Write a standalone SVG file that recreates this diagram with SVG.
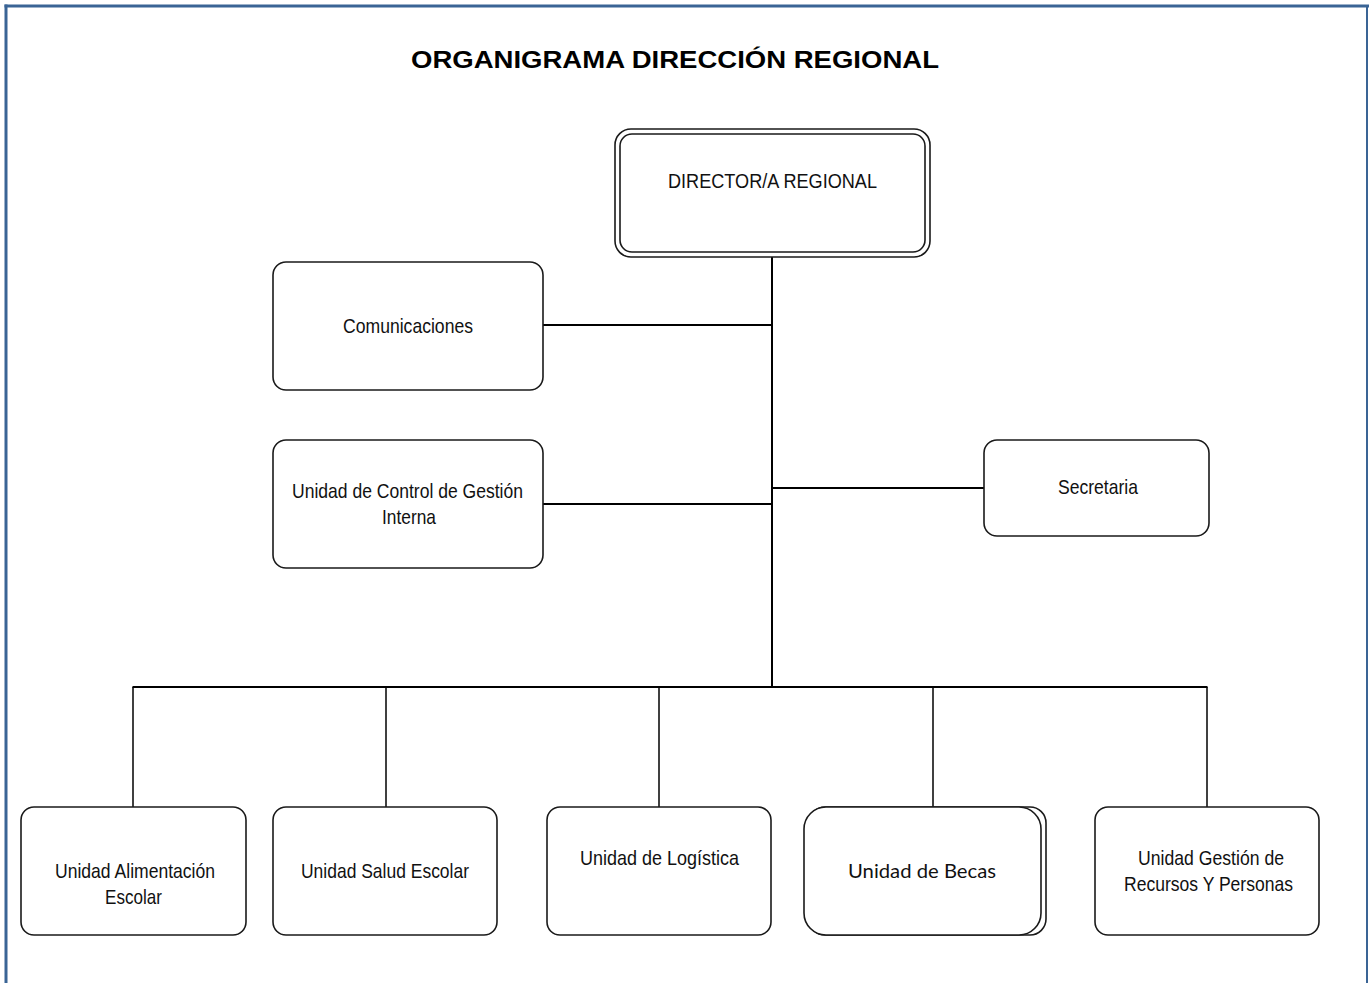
<svg xmlns="http://www.w3.org/2000/svg" width="1369" height="983" viewBox="0 0 1369 983">
<style>
.box{fill:#fff;stroke:#1a1a1a;stroke-width:1.6}
.t{font-family:"Liberation Sans",Arial,sans-serif;font-size:21px;fill:#111;text-anchor:middle}
.c{fill:none;stroke:#000;stroke-width:2}
.d{fill:none;stroke:#000;stroke-width:1.5}
</style>
<rect width="1369" height="983" fill="#fff"/>
<g id="frame" fill="none" stroke="#3a6495">
<line x1="4.5" y1="6" x2="1369" y2="6" stroke-width="3"/>
<line x1="6" y1="4.5" x2="6" y2="983" stroke-width="3"/>
<line x1="1367" y1="6" x2="1367" y2="983" stroke-width="2"/>
</g>
<text x="675" y="68" font-family="'Liberation Sans',Arial,sans-serif" font-weight="bold" font-size="24" text-anchor="middle" textLength="528" lengthAdjust="spacingAndGlyphs">ORGANIGRAMA DIRECCIÓN REGIONAL</text>
<g id="connectors">
<line class="c" x1="772" y1="257" x2="772" y2="688"/>
<line class="c" x1="543" y1="325" x2="772" y2="325"/>
<line class="c" x1="543" y1="504" x2="772" y2="504"/>
<line class="c" x1="772" y1="488" x2="984" y2="488"/>
<line class="c" x1="132.5" y1="687" x2="1207.5" y2="687"/>
<line class="d" x1="133" y1="687" x2="133" y2="807"/>
<line class="d" x1="386" y1="687" x2="386" y2="807"/>
<line class="d" x1="659" y1="687" x2="659" y2="807"/>
<line class="d" x1="933" y1="687" x2="933" y2="807"/>
<line class="d" x1="1207" y1="687" x2="1207" y2="807"/>
</g>
<g id="director">
<rect class="box" x="615" y="129" width="315" height="128" rx="16"/>
<rect class="box" x="620" y="134" width="305" height="118" rx="12"/>
<text class="t" x="772.5" y="188" textLength="209" lengthAdjust="spacingAndGlyphs">DIRECTOR/A  REGIONAL</text>
</g>
<g id="comunicaciones">
<rect class="box" x="273" y="262" width="270" height="128" rx="13"/>
<text class="t" x="408" y="333" textLength="130" lengthAdjust="spacingAndGlyphs">Comunicaciones</text>
</g>
<g id="control">
<rect class="box" x="273" y="440" width="270" height="128" rx="13"/>
<text class="t" x="407.5" y="498" textLength="231" lengthAdjust="spacingAndGlyphs">Unidad de Control de Gestión</text>
<text class="t" x="409" y="524" textLength="54" lengthAdjust="spacingAndGlyphs">Interna</text>
</g>
<g id="secretaria">
<rect class="box" x="984" y="440" width="225" height="96" rx="13"/>
<text class="t" x="1098" y="494" textLength="80" lengthAdjust="spacingAndGlyphs">Secretaria</text>
</g>
<g id="alimentacion">
<rect class="box" x="21" y="807" width="225" height="128" rx="13"/>
<text class="t" x="135" y="878" textLength="160" lengthAdjust="spacingAndGlyphs">Unidad Alimentación</text>
<text class="t" x="133.5" y="904" textLength="57" lengthAdjust="spacingAndGlyphs">Escolar</text>
</g>
<g id="salud">
<rect class="box" x="273" y="807" width="224" height="128" rx="13"/>
<text class="t" x="385" y="878" textLength="168" lengthAdjust="spacingAndGlyphs">Unidad Salud Escolar</text>
</g>
<g id="logistica">
<rect class="box" x="547" y="807" width="224" height="128" rx="13"/>
<text class="t" x="659.5" y="865" textLength="159" lengthAdjust="spacingAndGlyphs">Unidad de  Logística</text>
</g>
<g id="becas">
<rect class="box" x="809" y="807" width="237" height="128" rx="16"/>
<rect class="box" x="804" y="807" width="237" height="128" rx="22"/>
<text x="922" y="878" font-family="Lato,'Open Sans',sans-serif" font-size="19" fill="#111" text-anchor="middle" textLength="148" lengthAdjust="spacingAndGlyphs">Unidad de Becas</text>
</g>
<g id="recursos">
<rect class="box" x="1095" y="807" width="224" height="128" rx="13"/>
<text class="t" x="1211" y="865" textLength="146" lengthAdjust="spacingAndGlyphs">Unidad Gestión de</text>
<text class="t" x="1208.5" y="891" textLength="169" lengthAdjust="spacingAndGlyphs">Recursos Y Personas</text>
</g>
</svg>
